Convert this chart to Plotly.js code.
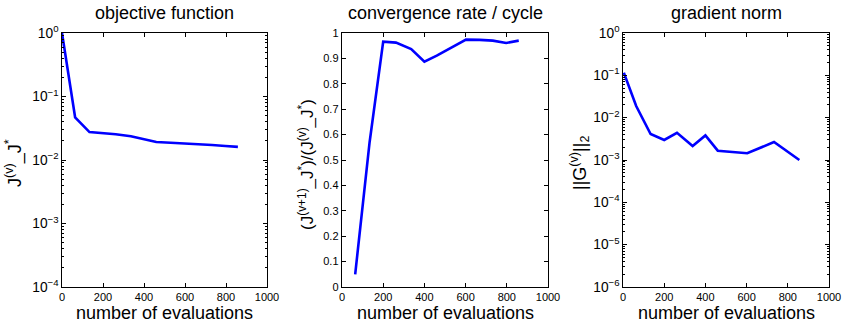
<!DOCTYPE html>
<html>
<head>
<meta charset="utf-8">
<script src="https://cdn.plot.ly/plotly-3.0.1.min.js"></script>
<style>
html,body{margin:0;padding:0;background:#fff;}
#chart{width:842px;height:327px;}
</style>
</head>
<body>
<div id="chart"></div>
<script>
// ---- data ----
const evaluations = [0, 64, 134, 200, 262, 336, 400, 460, 530, 602, 668, 732, 797, 858];
const objective = [1, 0.047, 0.0275, 0.0265, 0.0255, 0.0237, 0.0213, 0.0192, 0.0187, 0.0183, 0.0178, 0.0172, 0.0166, 0.0161];
const rateEvaluations = [64, 134, 200, 262, 336, 400, 460, 530, 602, 668, 732, 797, 858];
const rate = [0.05, 0.57, 0.966, 0.962, 0.937, 0.887, 0.911, 0.942, 0.974, 0.973, 0.970, 0.961, 0.970];
const gradEvaluations = [4, 64, 134, 200, 262, 338, 400, 460, 603, 733, 856];
const gradNorm = [0.115, 0.0188, 0.0041, 0.00297, 0.0044, 0.00214, 0.0038, 0.00166, 0.00144, 0.00266, 0.0010];

const xTicks = [0, 200, 400, 600, 800, 1000];
const logZeroLabel = {'1': '10<sup>0</sup>'};

const titles = ['objective function', 'convergence rate / cycle', 'gradient norm'];
const xTitle = 'number of evaluations';
const yTitles = [
  'J<sup>(v)</sup>_J<sup>*</sup>',
  '(J<sup>(v+1)</sup>_J<sup>*</sup>)/(J<sup>(v)</sup>_J<sup>*</sup>)',
  '||G<sup>(v)</sup>||<sub>2</sub>'
];

// ---- layout geometry ----
const W = 842, H = 327;
const panels = [[62, 267], [342, 548], [623, 829]];
const plotTop = 33, plotBottom = 287;
const yDom = [1 - plotBottom / H, 1 - plotTop / H];
const FONT = 'Liberation Sans, Arial, Helvetica, sans-serif';

const lineStyle = {color: '#0000ff', width: 2.6};
const traces = [
  {x: evaluations, y: objective, xaxis: 'x', yaxis: 'y', mode: 'lines', line: lineStyle},
  {x: rateEvaluations, y: rate, xaxis: 'x2', yaxis: 'y2', mode: 'lines', line: lineStyle},
  {x: gradEvaluations, y: gradNorm, xaxis: 'x3', yaxis: 'y3', mode: 'lines', line: lineStyle}
];

function xAxis(i, anchor) {
  return {
    domain: [panels[i][0] / W, panels[i][1] / W], anchor: anchor,
    range: [0, 1000], tickvals: xTicks, ticks: 'inside', ticklen: 4,
    tickcolor: '#000', linecolor: '#000', linewidth: 1.3, mirror: 'allticks',
    showgrid: false, zeroline: false, tickfont: {size: 11, color: '#000'},
    ticklabelstandoff: -1, fixedrange: true
  };
}
function yBase(i, anchor) {
  return {
    domain: yDom, anchor: anchor, ticks: 'inside', ticklen: 4,
    tickcolor: '#000', linecolor: '#000', linewidth: 1.3, mirror: 'allticks',
    showgrid: false, zeroline: false, tickfont: {size: 11, color: '#000'},
    fixedrange: true
  };
}
const logMinor = {ticks: 'inside', ticklen: 2, tickcolor: '#000', showgrid: false, dtick: 'D1'};

const y1 = Object.assign(yBase(0, 'x'), {
  type: 'log', range: [-4, 0], tickmode: 'linear', tick0: 0, dtick: 1,
  exponentformat: 'power', labelalias: logZeroLabel, minor: logMinor
});
const y2 = Object.assign(yBase(1, 'x2'), {
  range: [0, 1], dtick: 0.1, tick0: 0
});
const y3 = Object.assign(yBase(2, 'x3'), {
  type: 'log', range: [-6, 0], tickmode: 'linear', tick0: 0, dtick: 1,
  exponentformat: 'power', labelalias: logZeroLabel, minor: logMinor
});

const annotations = [];
const titleY = [163, 165, 163];
const titleX = [14, 306, 579];
const titleSize = [18, 17, 18];
for (let i = 0; i < 3; i++) {
  const cx = (panels[i][0] + panels[i][1]) / 2 / W;
  annotations.push({
    text: titles[i], xref: 'paper', yref: 'paper', x: cx, y: 1 - 13 / H,
    showarrow: false, xanchor: 'center', yanchor: 'middle',
    font: {size: 18, color: '#000', family: FONT}
  });
  annotations.push({
    text: xTitle, xref: 'paper', yref: 'paper', x: cx, y: 1 - 313 / H,
    showarrow: false, xanchor: 'center', yanchor: 'middle',
    font: {size: 18, color: '#000', family: FONT}
  });
  annotations.push({
    text: yTitles[i], xref: 'paper', yref: 'paper', x: titleX[i] / W, y: 1 - titleY[i] / H,
    showarrow: false, xanchor: 'center', yanchor: 'middle', textangle: -90,
    font: {size: titleSize[i], color: '#000', family: FONT}
  });
}

const layout = {
  width: W, height: H,
  margin: {l: 0, r: 0, t: 0, b: 0},
  paper_bgcolor: '#fff', plot_bgcolor: '#fff',
  showlegend: false,
  font: {family: FONT, color: '#000'},
  xaxis: xAxis(0, 'y'), yaxis: y1,
  xaxis2: xAxis(1, 'y2'), yaxis2: y2,
  xaxis3: xAxis(2, 'y3'), yaxis3: y3,
  annotations: annotations
};

Plotly.newPlot('chart', traces, layout, {displayModeBar: false, staticPlot: true});
</script>
</body>
</html>
